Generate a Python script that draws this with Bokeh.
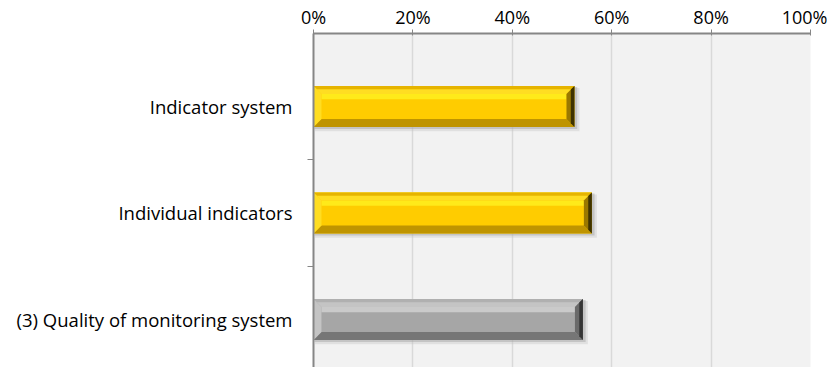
from bokeh.plotting import figure
from bokeh.models import Range1d, FixedTicker, LinearAxis
from bokeh.embed import file_html
from bokeh.resources import INLINE

categories = ["Indicator system", "Individual indicators", "(3) Quality of monitoring system"]
values = [52.5, 56.0, 54.2]
face_colors = ["#FFCC00", "#FFCC00", "#A6A6A6"]
light_colors = ["#FFDD22", "#FFDD22", "#C4C4C4"]
edge_colors = ["#E6B400", "#E6B400", "#B0B0B0"]
stripe_colors = ["#FFEA1A", "#FFEA1A", "#CACACA"]
dark_colors = ["#BF9400", "#BF9400", "#767676"]
right_outer = ["#3E3200", "#3E3200", "#353535"]
right_inner = ["#9A7800", "#9A7800", "#6A6A6A"]
x_ticks = [0, 20, 40, 60, 80, 100]
x_labels = ["0%", "20%", "40%", "60%", "80%", "100%"]

FONT = "Open Sans"
p = figure(width=827, height=367, output_backend="svg", toolbar_location=None,
           x_range=Range1d(0, 100), y_range=Range1d(-0.451, 2.685),
           x_axis_location=None, y_axis_location=None,
           min_border_left=313, min_border_right=17, min_border_top=33, min_border_bottom=0)
p.outline_line_color = None
p.background_fill_color = "#F2F2F2"
p.border_fill_color = "white"

ys = [2 - i for i in range(len(categories))]
h = 0.1925
bx = 1.6
by = 0.075

# shadows
p.quad(left=[0.3] * 3, right=[v + 1.0 for v in values], bottom=[y - h - 0.04 for y in ys],
       top=[y + h - 0.02 for y in ys], fill_color="#BFBFBF", fill_alpha=0.35, line_color=None)
p.quad(left=[0.2] * 3, right=[v + 0.55 for v in values], bottom=[y - h - 0.02 for y in ys],
       top=[y + h - 0.01 for y in ys], fill_color="#9A9A9A", fill_alpha=0.4, line_color=None)

# face
p.quad(left=[0] * 3, right=values, bottom=[y - h for y in ys], top=[y + h for y in ys],
       fill_color=face_colors, line_color=None)
# highlight stripe
p.quad(left=[bx] * 3, right=[v - bx for v in values], bottom=[y + h - by - 0.05 for y in ys],
       top=[y + h - by for y in ys], fill_color=stripe_colors, line_color=None)


def trap(pts):
    return [pt[0] for pt in pts], [pt[1] for pt in pts]


top_x, top_y, toe_x, toe_y, bot_x, bot_y, lft_x, lft_y, rgt_x, rgt_y, rgi_x, rgi_y = ([] for _ in range(12))
for v, y in zip(values, ys):
    xx, yy = trap([(0, y + h), (v, y + h), (v - bx, y + h - by), (bx, y + h - by)])
    top_x.append(xx); top_y.append(yy)
    xx, yy = trap([(0, y + h), (v, y + h), (v - bx * 0.4, y + h - by * 0.4), (bx * 0.4, y + h - by * 0.4)])
    toe_x.append(xx); toe_y.append(yy)
    xx, yy = trap([(0, y - h), (v, y - h), (v - bx, y - h + by), (bx, y - h + by)])
    bot_x.append(xx); bot_y.append(yy)
    xx, yy = trap([(0, y - h), (0, y + h), (bx, y + h - by), (bx, y - h + by)])
    lft_x.append(xx); lft_y.append(yy)
    xx, yy = trap([(v, y - h), (v, y + h), (v - bx, y + h - by), (v - bx, y - h + by)])
    rgi_x.append(xx); rgi_y.append(yy)
    xx, yy = trap([(v, y - h), (v, y + h), (v - bx * 0.45, y + h - by * 0.45), (v - bx * 0.45, y - h + by * 0.45)])
    rgt_x.append(xx); rgt_y.append(yy)

p.patches(top_x, top_y, fill_color=light_colors, line_color=None)
p.patches(toe_x, toe_y, fill_color=edge_colors, line_color=None)
p.patches(bot_x, bot_y, fill_color=dark_colors, line_color=None)
p.patches(lft_x, lft_y, fill_color=light_colors, line_color=None)
p.patches(rgi_x, rgi_y, fill_color=right_inner, line_color=None)
p.patches(rgt_x, rgt_y, fill_color=right_outer, line_color=None)

# axes
xa = LinearAxis(ticker=FixedTicker(ticks=x_ticks))
xa.major_label_overrides = {t: l for t, l in zip(x_ticks, x_labels)}
xa.axis_line_color = "#868686"
xa.axis_line_width = 2
xa.major_tick_line_color = "#868686"
xa.major_tick_in = 2
xa.major_tick_out = 4
xa.minor_tick_line_color = None
xa.major_label_text_font = FONT
xa.major_label_text_font_size = "18px"
xa.major_label_text_color = "#000000"
xa.major_label_standoff = 1
p.add_layout(xa, "above")

ya = LinearAxis(ticker=FixedTicker(ticks=ys, minor_ticks=[0.5, 1.5]))
ya.major_label_overrides = {y: c for y, c in zip(ys, categories)}
ya.axis_line_color = "#868686"
ya.axis_line_width = 2
ya.major_tick_line_color = None
ya.minor_tick_line_color = "#868686"
ya.minor_tick_in = 0
ya.minor_tick_out = 6
ya.major_label_text_font = FONT
ya.major_label_text_font_size = "18.5px"
ya.major_label_text_color = "#000000"
ya.major_label_standoff = 15
p.add_layout(ya, "left")

p.xgrid.ticker = FixedTicker(ticks=x_ticks)
p.xgrid.grid_line_color = "#D9D9D9"
p.xgrid.grid_line_width = 1.5
p.ygrid.grid_line_color = None

open("out.html", "w").write(file_html(p, INLINE))
